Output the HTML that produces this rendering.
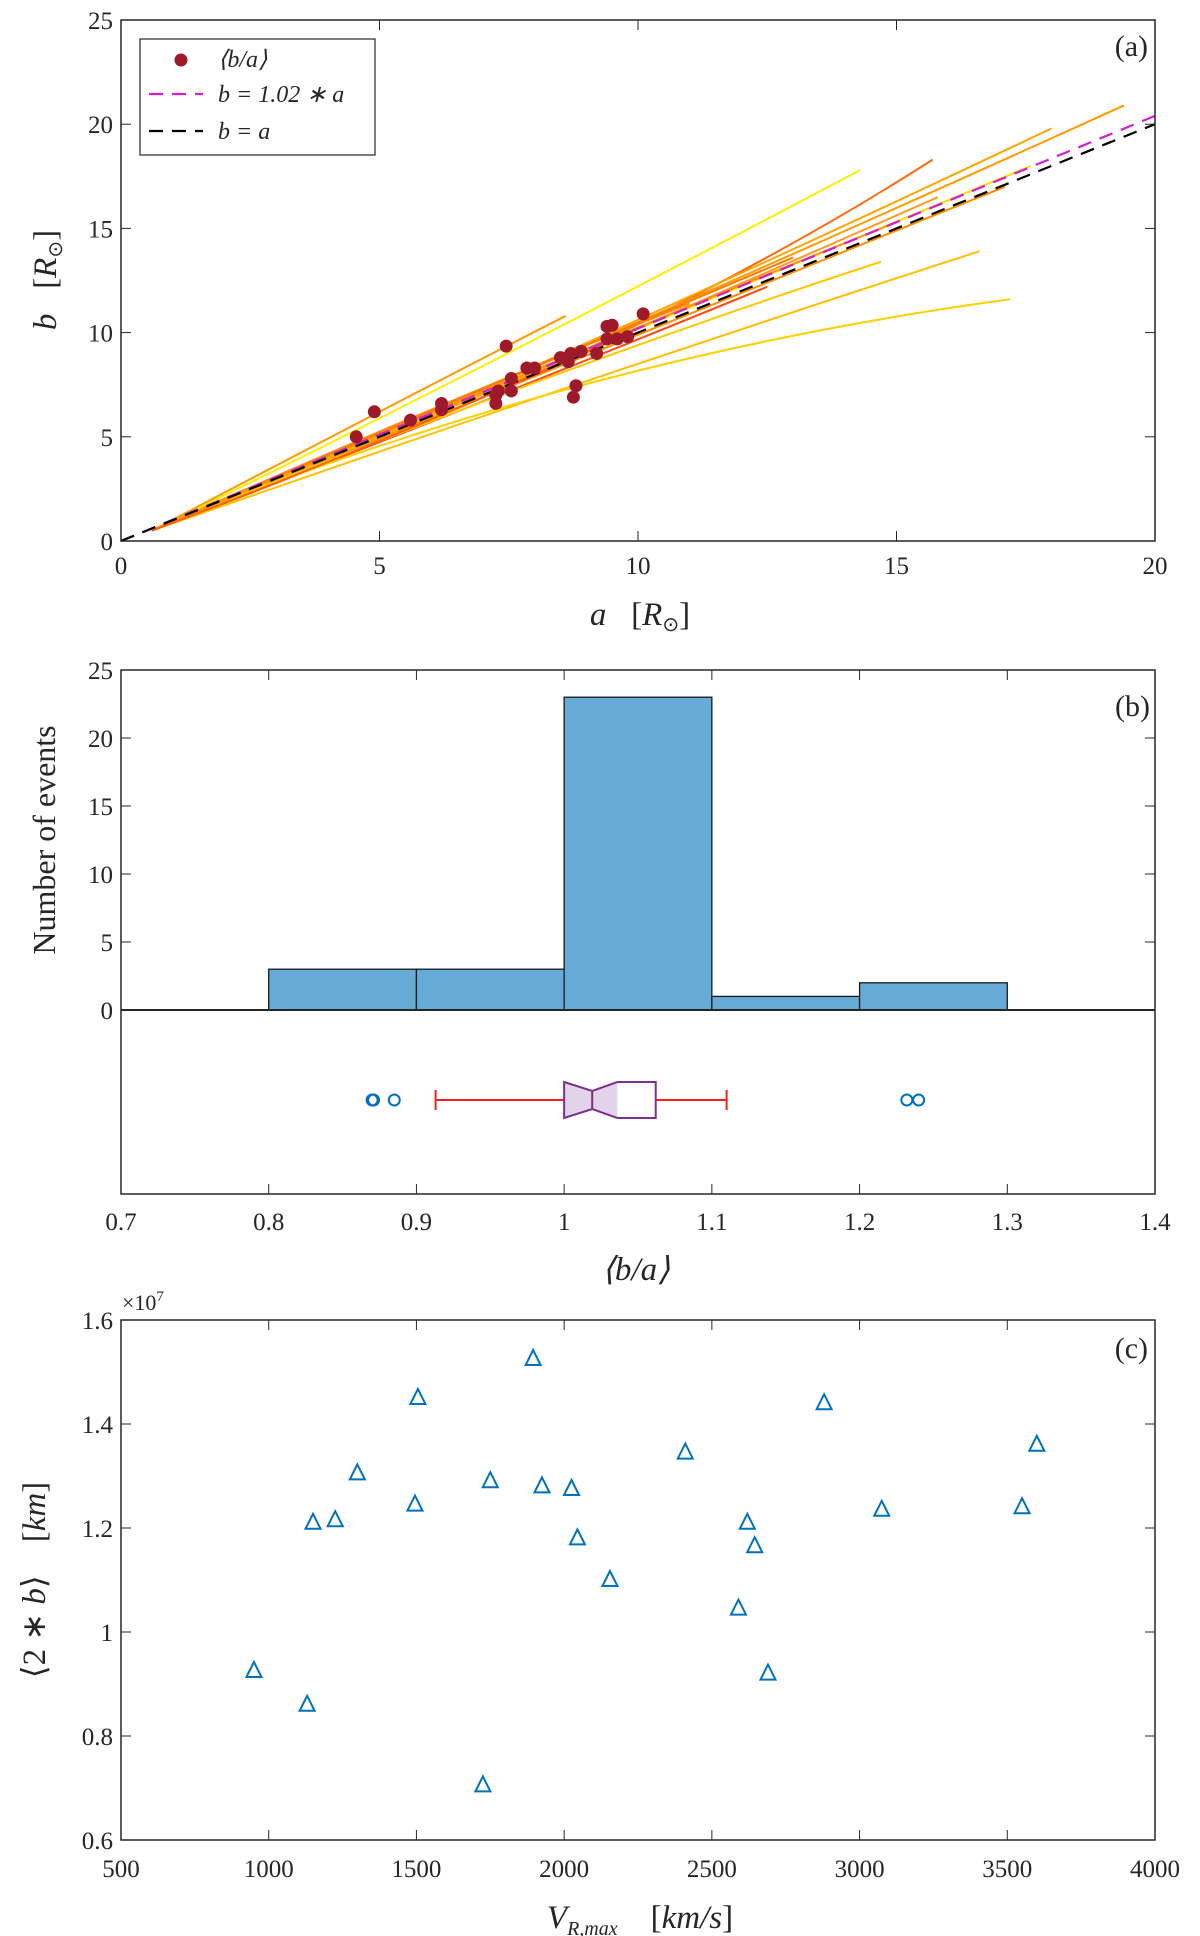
<!DOCTYPE html>
<html><head><meta charset="utf-8"><style>
html,body{margin:0;padding:0;background:#fff}
svg{display:block}
text{font-family:"Liberation Serif",serif;fill:#262626;white-space:pre}
</style></head><body>
<svg id="s" width="1200" height="1936" viewBox="0 0 1200 1936"></svg>
<script>
// ---------- Panel (a) data ----------
const dotA=[4.55,4.9,5.6,6.2,6.2,7.25,7.25,7.3,7.45,7.55,7.55,7.85,8.0,8.5,8.65,8.7,8.75,8.8,8.9,9.2,9.4,9.4,9.5,9.6,9.8,10.1];
const dotB=[5.0,6.2,5.8,6.6,6.3,6.6,7.0,7.2,9.35,7.8,7.2,8.3,8.3,8.8,8.6,9.0,6.9,7.45,9.1,9.0,9.7,10.3,10.35,9.7,9.8,10.9];
const curveA=[[0.6,7,14.3],[0.6,9,15.7],[0.6,10,19.4],[0.6,9,18],[0.6,9,17.6],[0.6,9,17.1],[0.6,8,15.8],[0.6,7,12.5],[0.6,8,14.7],[0.6,8.8,16.6],[0.6,8.8,17.2],[0.6,5,8.6],[0.6,6,11],[0.6,7,13],[0.6,6,10],[0.6,8,15],[0.6,5,9.5]];
const curveB=[[0.5,8.4,17.8],[0.5,9.2,18.3],[0.5,10.5,20.9],[0.5,9.5,19.8],[0.5,9.1,18],[0.5,8.9,17],[0.5,8.1,16.5],[0.5,6.7,12.2],[0.5,7.6,13.4],[0.5,7.5,13.9],[0.5,7.4,11.6],[0.5,6.2,10.8],[0.5,6.3,11.4],[0.5,7.3,13.6],[0.5,6.1,10.2],[0.5,8.2,15.3],[0.5,4.8,9.6]];
const curveColor=["#ffee00","#ff6a10","#ff9a00","#ffa500","#ffdd00","#ff8c00","#ff9a20","#ff4a10","#ffc800","#ffc000","#ffd000","#ff9a00","#ff8a10","#ff7a00","#ffb000","#ff9500","#ff6000"];
// ---------- Panel (b) data ----------
const binEdges=[0.8,0.9,1.0,1.1,1.2,1.3];
const binCounts=[3,3,23,1,2];
const boxStats={wlo:0.913,q1:1.0,notchLo:1.0,med:1.019,notchHi:1.036,q3:1.062,whi:1.11};
const outliers=[0.87,0.871,0.885,1.232,1.24];
// ---------- Panel (c) data ----------
const velocity=[950,1130,1150,1225,1300,1495,1505,1725,1750,1895,1925,2025,2045,2155,2410,2590,2620,2645,2690,2880,3075,3550,3600];
const width2b=[0.925,0.86,1.21,1.215,1.305,1.245,1.45,0.705,1.29,1.525,1.28,1.275,1.18,1.1,1.345,1.045,1.21,1.165,0.92,1.44,1.235,1.24,1.36];
const ticksA=[0,5,10,15,20], ticksAy=[0,5,10,15,20,25];
const ticksBx=[0.7,0.8,0.9,1,1.1,1.2,1.3,1.4], ticksBy=[0,5,10,15,20,25];
const ticksCx=[500,1000,1500,2000,2500,3000,3500,4000], ticksCy=[0.6,0.8,1,1.2,1.4,1.6];

const S=document.getElementById('s');const NS="http://www.w3.org/2000/svg";
function el(t,a,p){const e=document.createElementNS(NS,t);for(const k in a)e.setAttribute(k,a[k]);(p||S).appendChild(e);return e;}
function txt(x,y,s,o){const e=el('text',Object.assign({x:x,y:y,'font-size':25,'text-anchor':'middle'},o||{}));e.textContent=s;return e;}
const L=121,R=1155;
function lin(d0,d1,p0,p1){return v=>p0+(v-d0)/(d1-d0)*(p1-p0);}

// ===== Panel a =====
const ga=el('g',{});
const ax=lin(0,20,L,R), ay=lin(0,25,541,20);
curveA.forEach((ca,i)=>{const cb=curveB[i];
 const p=el('path',{d:`M${ax(ca[0])},${ay(cb[0])} Q${2*ax(ca[1])-(ax(ca[0])+ax(ca[2]))/2},${2*ay(cb[1])-(ay(cb[0])+ay(cb[2]))/2} ${ax(ca[2])},${ay(cb[2])}`,fill:'none',stroke:curveColor[i],'stroke-width':2},ga);
 });
let l1=el('line',{x1:ax(0),y1:ay(0),x2:ax(20),y2:ay(20.4),stroke:'#d020d0','stroke-width':2.2,'stroke-dasharray':'14,9'},ga);

let l2=el('line',{x1:ax(0),y1:ay(0),x2:ax(20),y2:ay(20),stroke:'#000','stroke-width':2.2,'stroke-dasharray':'14,9'},ga);

dotA.forEach((a,i)=>{const c=el('circle',{cx:ax(a),cy:ay(dotB[i]),r:6.5,fill:'#9e1a2a'},ga);});
el('rect',{x:L,y:20,width:R-L,height:521,fill:'none',stroke:'#262626','stroke-width':1.5},ga);
ticksA.forEach(t=>{el('line',{x1:ax(t),y1:541,x2:ax(t),y2:531,stroke:'#262626'},ga);el('line',{x1:ax(t),y1:20,x2:ax(t),y2:30,stroke:'#262626'},ga);txt(ax(t),574,t,{});});
ticksAy.forEach(t=>{el('line',{x1:L,y1:ay(t),x2:L+10,y2:ay(t),stroke:'#262626'},ga);el('line',{x1:R,y1:ay(t),x2:R-10,y2:ay(t),stroke:'#262626'},ga);txt(L-8,ay(t)+9,t,{'text-anchor':'end'});});
let xt=txt(640,625,'',{'font-size':33});xt.innerHTML='<tspan font-style="italic">a</tspan>   [<tspan font-style="italic">R</tspan><tspan font-size="20" dy="6">⊙</tspan><tspan dy="-6">]</tspan>';
let yt=txt(0,0,'',{'font-size':33,transform:'translate(56,280) rotate(-90)'});yt.innerHTML='<tspan font-style="italic">b</tspan>   [<tspan font-style="italic">R</tspan><tspan font-size="20" dy="6">⊙</tspan><tspan dy="-6">]</tspan>';
txt(1148,56,'(a)',{'font-size':30,'text-anchor':'end'});
const lg=el('g',{},ga);
el('rect',{x:140,y:39,width:235,height:116,fill:'#fff',stroke:'#262626','stroke-width':1.2},lg);
el('circle',{cx:181,cy:60,r:6.5,fill:'#9e1a2a'},lg);txt(218,67,'⟨b/a⟩',{'text-anchor':'start','font-size':24,'font-style':'italic'});
el('line',{x1:149,y1:94,x2:203,y2:94,stroke:'#d020d0','stroke-width':2.2,'stroke-dasharray':'14,9'},lg);txt(218,102,'b = 1.02 ∗ a',{'text-anchor':'start','font-size':24,'font-style':'italic'});
el('line',{x1:149,y1:131,x2:203,y2:131,stroke:'#000','stroke-width':2.2,'stroke-dasharray':'14,9'},lg);txt(218,139,'b = a',{'text-anchor':'start','font-size':24,'font-style':'italic'});

// ===== Panel b =====
const gb=el('g',{});
const bx=lin(0.7,1.4,L,R), by=lin(0,25,1010,670);
binCounts.forEach((c,i)=>{const r=el('rect',{x:bx(binEdges[i]),y:by(c),width:bx(binEdges[i+1])-bx(binEdges[i]),height:by(0)-by(c),fill:'#66aad6',stroke:'#1a1a1a','stroke-width':1.3},gb);});
el('line',{x1:L,y1:1010,x2:R,y2:1010,stroke:'#262626','stroke-width':2},gb);
el('rect',{x:L,y:670,width:R-L,height:524,fill:'none',stroke:'#262626','stroke-width':1.5},gb);
const cy=1100,hh=18;
const bs=boxStats;
const wl=el('g',{},gb);
el('line',{x1:bx(bs.wlo),y1:cy,x2:bx(bs.q1),y2:cy,stroke:'#f02020','stroke-width':2},wl);
el('line',{x1:bx(bs.q3),y1:cy,x2:bx(bs.whi),y2:cy,stroke:'#f02020','stroke-width':2},wl);
el('line',{x1:bx(bs.wlo),y1:cy-10,x2:bx(bs.wlo),y2:cy+10,stroke:'#f02020','stroke-width':2},wl);
el('line',{x1:bx(bs.whi),y1:cy-10,x2:bx(bs.whi),y2:cy+10,stroke:'#f02020','stroke-width':2},wl);
const box=el('g',{},gb);
el('path',{d:`M${bx(bs.q1)},${cy-hh} L${bx(bs.med)},${cy-hh/2} L${bx(bs.notchHi)},${cy-hh} L${bx(bs.notchHi)},${cy+hh} L${bx(bs.med)},${cy+hh/2} L${bx(bs.q1)},${cy+hh} Z`,fill:'#e3d3e8',stroke:'none'},box);
el('path',{d:`M${bx(bs.q1)},${cy-hh} L${bx(bs.med)},${cy-hh/2} L${bx(bs.notchHi)},${cy-hh} L${bx(bs.q3)},${cy-hh} L${bx(bs.q3)},${cy+hh} L${bx(bs.notchHi)},${cy+hh} L${bx(bs.med)},${cy+hh/2} L${bx(bs.q1)},${cy+hh} Z`,fill:'none',stroke:'#7e2f8e','stroke-width':2},box);
el('line',{x1:bx(bs.med),y1:cy-hh/2,x2:bx(bs.med),y2:cy+hh/2,stroke:'#7e2f8e','stroke-width':2},box);
outliers.forEach(o=>{const c=el('circle',{cx:bx(o),cy:cy,r:5.5,fill:'none',stroke:'#0072bd','stroke-width':2},gb);});
ticksBx.forEach(t=>{[1010,1194].forEach(y0=>el('line',{x1:bx(t),y1:y0,x2:bx(t),y2:y0-10,stroke:'#262626'},gb));el('line',{x1:bx(t),y1:670,x2:bx(t),y2:680,stroke:'#262626'},gb);txt(bx(t),1230,t,{});});
ticksBy.forEach(t=>{el('line',{x1:L,y1:by(t),x2:L+10,y2:by(t),stroke:'#262626'},gb);el('line',{x1:R,y1:by(t),x2:R-10,y2:by(t),stroke:'#262626'},gb);txt(L-8,by(t)+9,t,{'text-anchor':'end'});});
txt(636,1280,'⟨b/a⟩',{'font-size':33,'font-style':'italic'});
txt(0,0,'Number of events',{'font-size':32,transform:'translate(55,840) rotate(-90)'});
txt(1150,716,'(b)',{'font-size':30,'text-anchor':'end'});

// ===== Panel c =====
const gc=el('g',{});
const cx=lin(500,4000,L,R), cyy=lin(0.6,1.6,1840,1320);
velocity.forEach((v,i)=>{const x=cx(v),y=cyy(width2b[i]);const p=el('path',{d:`M${x},${y-9} L${x+7.5},${y+6} L${x-7.5},${y+6} Z`,fill:'none',stroke:'#0072bd','stroke-width':2},gc);});
el('rect',{x:L,y:1320,width:R-L,height:520,fill:'none',stroke:'#262626','stroke-width':1.5},gc);
ticksCx.forEach(t=>{el('line',{x1:cx(t),y1:1840,x2:cx(t),y2:1830,stroke:'#262626'},gc);el('line',{x1:cx(t),y1:1320,x2:cx(t),y2:1330,stroke:'#262626'},gc);txt(cx(t),1877,t,{});});
ticksCy.forEach(t=>{el('line',{x1:L,y1:cyy(t),x2:L+10,y2:cyy(t),stroke:'#262626'},gc);el('line',{x1:R,y1:cyy(t),x2:R-10,y2:cyy(t),stroke:'#262626'},gc);txt(L-8,cyy(t)+9,t,{'text-anchor':'end'});});
let ex=txt(122,1310,'',{'font-size':22,'text-anchor':'start'});ex.innerHTML='×10<tspan font-size="15" dy="-9">7</tspan>';
let cxt=txt(640,1928,'',{'font-size':33});cxt.innerHTML='<tspan font-style="italic">V</tspan><tspan font-size="20" font-style="italic" dy="7">R,max</tspan><tspan dy="-7">    [</tspan><tspan font-style="italic">km/s</tspan>]';
let cyt=txt(0,0,'',{'font-size':33,transform:'translate(45,1580) rotate(-90)'});cyt.innerHTML='⟨2 ∗ <tspan font-style="italic">b</tspan>⟩    [<tspan font-style="italic">km</tspan>]';
txt(1148,1358,'(c)',{'font-size':30,'text-anchor':'end'});
</script>
</body></html>
